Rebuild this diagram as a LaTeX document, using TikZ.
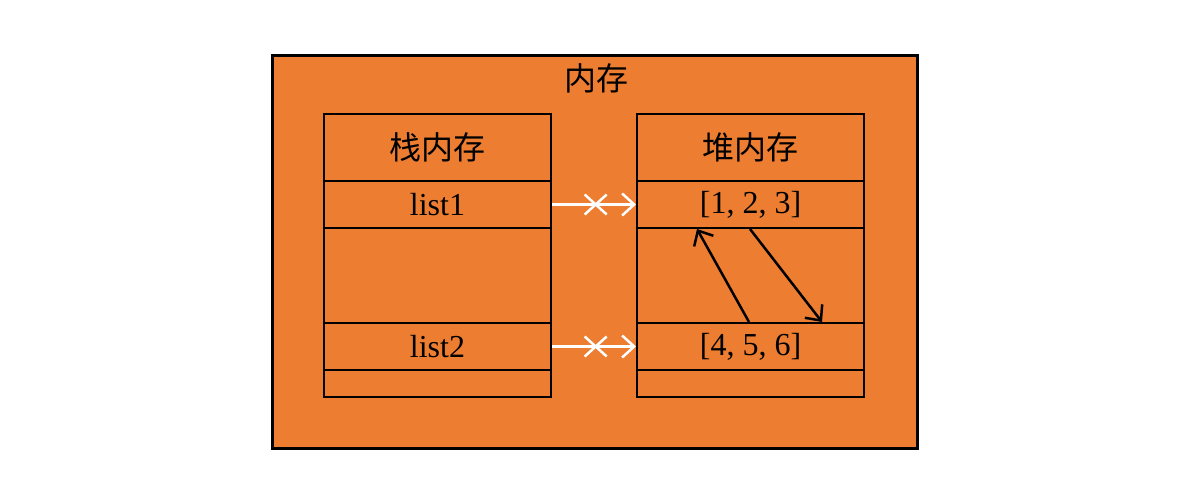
\documentclass[tikz,border=0pt]{standalone}
\usepackage{fontspec}
\setmainfont{Liberation Serif}
\newfontfamily\cjk{Noto Sans CJK SC}
\usetikzlibrary{arrows.meta,calc}
\definecolor{memorange}{RGB}{237,125,49}
\tikzset{
  cell/.style={draw=black, line width=2pt, fill=memorange, minimum width=227pt, inner sep=0pt, anchor=north west},
  cross/.style={white, line width=2.5pt},
}
\begin{document}
\begin{tikzpicture}[x=1pt,y=1pt,yscale=-1,font=\fontsize{32}{36}\selectfont]
	\useasboundingbox (0,0) rectangle (1188,500);
	
	% outer memory box
	\node [draw=black, line width=3pt, fill=memorange, minimum width=645pt, minimum height=393pt, anchor=north west, inner sep=0pt] (mem) at (271,54) {};
	\node (memtitle) at (596,78) {\cjk 内存};
	
	% stack column
	\node [cell, minimum height=67pt] (stackhead) at (323,113) {\cjk 栈内存};
	\node [cell, minimum height=47pt] (stackA) at (323,180) {list1};
	\node [cell, minimum height=95pt] (stackgap) at (323,227) {};
	\node [cell, minimum height=47pt] (stackB) at (323,322) {list2};
	\node [cell, minimum height=27pt] (stackend) at (323,369) {};
	
	% heap column
	\node [cell, minimum height=67pt] (heaphead) at (636,113) {\cjk 堆内存};
	\node [cell, minimum height=47pt] (heapA) at (636,180) {[1, 2, 3]};
	\node [cell, minimum height=95pt] (heapgap) at (636,227) {};
	\node [cell, minimum height=47pt] (heapB) at (636,322) {[4, 5, 6]};
	\node [cell, minimum height=27pt] (heapend) at (636,369) {};
	
	% broken references
	\draw [cross, -{Straight Barb[length=12pt,width=22pt]}] (stackA.east) -- (heapA.west) coordinate[pos=0.52] (xa);
	\draw [cross, -{Straight Barb[length=12pt,width=22pt]}] (stackB.east) -- (heapB.west) coordinate[pos=0.52] (xb);
	\foreach \c in {xa,xb}{
		\draw [cross] ($(\c)+(-11,-10)$) -- ($(\c)+(11,10)$);
		\draw [cross] ($(\c)+(-11,10)$) -- ($(\c)+(11,-10)$);
	}
	
	% swapped values
	\coordinate (upfoot) at ([xshift=113pt]heapB.north west);
	\coordinate (uptip) at ([xshift=61pt]heapA.south west);
	\coordinate (downtop) at ([xshift=114pt]heapA.south west);
	\coordinate (downtip) at ([xshift=186pt]heapB.north west);
	\draw [line width=2.5pt, -{Straight Barb[length=12pt,width=22pt]}] (upfoot) -- (uptip);
	\draw [line width=2.5pt, -{Straight Barb[length=12pt,width=22pt]}] (downtop) -- (downtip);
\end{tikzpicture}
\end{document}
